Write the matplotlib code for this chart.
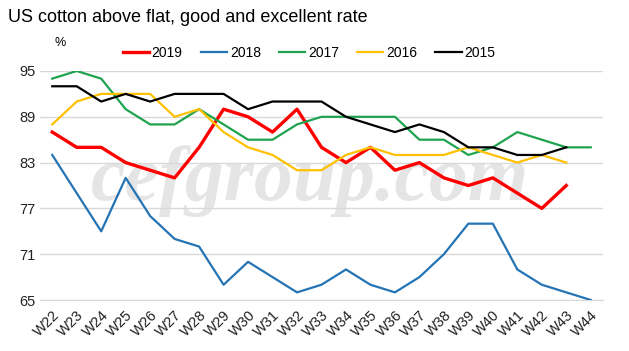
import matplotlib
matplotlib.use("Agg")
import matplotlib.pyplot as plt
import numpy as np

plt.rcParams['font.family'] = ['Liberation Sans Narrow', 'Liberation Sans', 'DejaVu Sans']

# weeks
weeks = ['W%d' % w for w in range(22, 45)]

# crop condition, % good + excellent
y2019 = [87, 85, 85, 83, 82, 81, 85, 90, 89, 87, 90, 85, 83, 85, 82, 83, 81, 80, 81, 79, 77, 80]
y2018 = [84, 79, 74, 81, 76, 73, 72, 67, 70, 68, 66, 67, 69, 67, 66, 68, 71, 75, 75, 69, 67, 66, 65]
y2017 = [94, 95, 94, 90, 88, 88, 90, 88, 86, 86, 88, 89, 89, 89, 89, 86, 86, 84, 85, 87, 86, 85, 85]
y2016 = [88, 91, 92, 92, 92, 89, 90, 87, 85, 84, 82, 82, 84, 85, 84, 84, 84, 85, 84, 83, 84, 83]
y2015 = [93, 93, 91, 92, 91, 92, 92, 92, 90, 91, 91, 91, 89, 88, 87, 88, 87, 85, 85, 84, 84, 85]

series = [('2019', y2019, '#FF0000', 2.4),
          ('2018', y2018, '#2474B5', 1.6),
          ('2017', y2017, '#1FA34E', 1.6),
          ('2016', y2016, '#FFC000', 1.6),
          ('2015', y2015, '#000000', 1.6)]

fig = plt.figure(figsize=(6.29, 3.51), dpi=100)
ax = fig.add_axes([40/629, 1-300/351, (603-40)/629, (300-71)/351])

x = np.arange(len(weeks))
# watermark
ax.text(0.48, 0.52, 'cefgroup.com', transform=ax.transAxes, fontsize=56,
        family='Liberation Serif', style='italic', weight='bold', color='#e5e5e5',
        ha='center', va='center', zorder=0)

for name, vals, col, lw in series:
    ax.plot(x[:len(vals)], vals, color=col, lw=lw, label=name, zorder=3)

ax.set_xlim(-0.5, len(weeks) - 0.5)
ax.set_ylim(65, 95)
ax.set_yticks([65, 71, 77, 83, 89, 95])
ax.set_xticks(x)
ax.set_xticklabels(weeks, rotation=45, ha='right', rotation_mode='anchor')
ax.tick_params(axis='both', length=0, labelsize=10.5, colors='#222222')
ax.tick_params(axis='x', pad=6)
ax.grid(axis='y', color='#d9d9d9', lw=1)
ax.set_axisbelow(True)
for s in ['top', 'right', 'left']:
    ax.spines[s].set_visible(False)
ax.spines['bottom'].set_color('#d9d9d9')

fig.text(8/629, 1-18/351, 'US cotton above flat, good and excellent rate',
         fontsize=13, va='center', ha='left')
fig.text(60/629, 1-43/351, '%', fontsize=9, va='center', ha='center')
ax.legend(loc='center', bbox_to_anchor=((309-40)/563, (300-53)/229), ncol=5,
          frameon=False, fontsize=10, handlelength=1.9, columnspacing=1.3,
          handletextpad=0.2, borderpad=0)

fig.savefig('out.png', dpi=100)
